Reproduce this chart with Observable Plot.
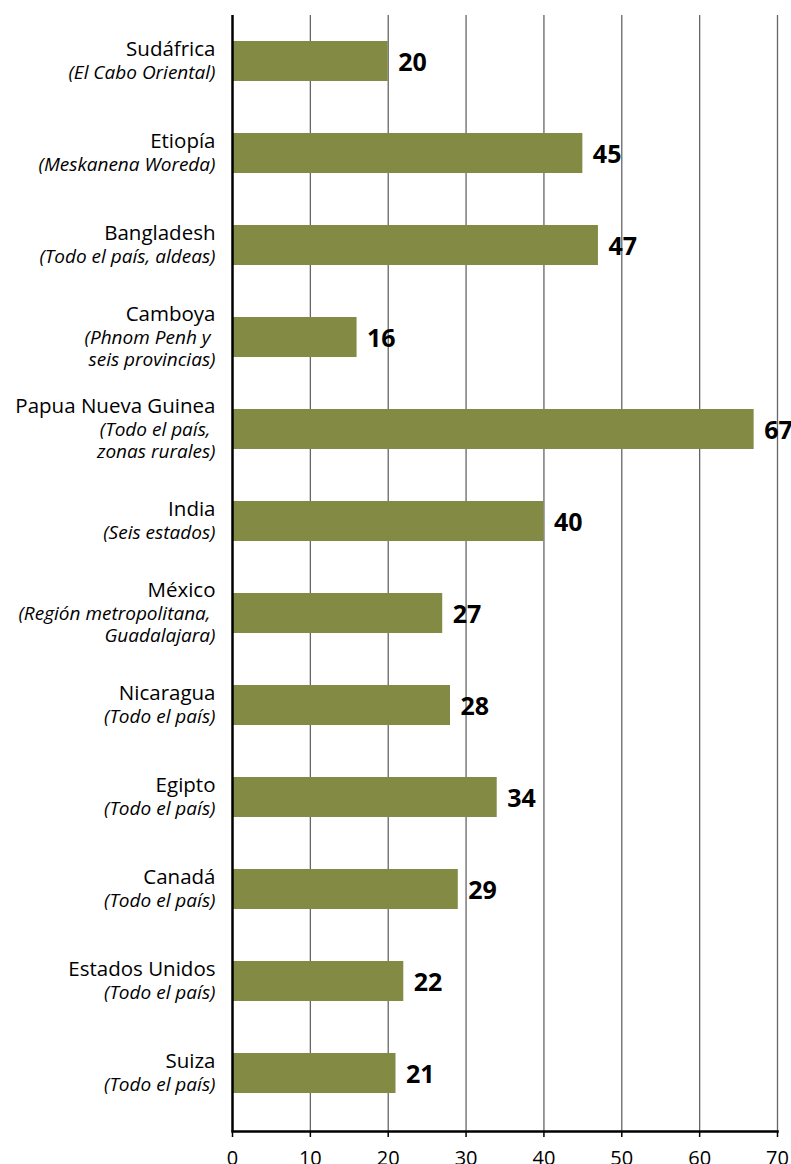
<!DOCTYPE html>
<html>
<head>
<meta charset="utf-8">
<script src="https://cdn.jsdelivr.net/npm/d3@7"></script>
<script src="https://cdn.jsdelivr.net/npm/@observablehq/plot@0.6"></script>
<style>
  html, body { margin: 0; padding: 0; background: #fff; }
  #chart svg { display: block; }
</style>
</head>
<body>
<div id="chart"></div>
<script>
const countries = ["Sudáfrica", "Etiopía", "Bangladesh", "Camboya", "Papua Nueva Guinea", "India", "México", "Nicaragua", "Egipto", "Canadá", "Estados Unidos", "Suiza"];
const regions = ["(El Cabo Oriental)", "(Meskanena Woreda)", "(Todo el país, aldeas)", "(Phnom Penh y \nseis provincias)", "(Todo el país, \nzonas rurales)", "(Seis estados)", "(Región metropolitana, \nGuadalajara)", "(Todo el país)", "(Todo el país)", "(Todo el país)", "(Todo el país)", "(Todo el país)"];
const values = [20, 45, 47, 16, 67, 40, 27, 28, 34, 29, 22, 21];
const xTicks = [0, 10, 20, 30, 40, 50, 60, 70];
const gridTicks = [10, 20, 30, 40, 50, 60, 70];

const data = countries.map((c, i) => ({
  country: c,
  region: regions[i],
  value: values[i],
  subLines: regions[i].split("\n").length
}));

const LH = 22.5;
const nameSize = 20.5;
const subSize = 19;
const font = "'Open Sans', 'Noto Sans', sans-serif";

const nameMark = (n) => Plot.text(data.filter(d => d.subLines === n), {
  x: 0, y: "country", text: "country", textAnchor: "end", dx: -17,
  dy: -LH * n / 2 - 1, fontSize: nameSize, fill: "#000"
});

const chart = Plot.plot({
  width: 791,
  height: 1164,
  marginLeft: 232,
  marginRight: 14,
  marginTop: 15,
  marginBottom: 33,
  style: { fontFamily: font, background: "#fff", color: "#000" },
  x: { domain: [0, 70], ticks: xTicks, label: null },
  y: { domain: countries, range: [13.4, 1119.8], paddingInner: 0.566, paddingOuter: 0.283, axis: null },
  marks: [
    Plot.ruleX(gridTicks, { stroke: "#666", strokeWidth: 1.3 }),
    Plot.barX(data, { x: "value", y: "country", fill: "#838a43" }),
    Plot.ruleX([0], { stroke: "#000", strokeWidth: 2.5 }),
    Plot.frame({ anchor: "bottom", stroke: "#000", strokeWidth: 2.5 }),
    Plot.axisX({ ticks: xTicks, tickSize: 6, tickPadding: 13, fontSize: 20, label: null, stroke: "#000", strokeWidth: 1.5, fill: "#000" }),
    nameMark(1),
    nameMark(2),
    Plot.text(data, { x: 0, y: "country", text: "region", textAnchor: "end", dx: -17, dy: LH / 2 - 1, fontSize: subSize, fontStyle: "italic", lineHeight: LH / subSize, fill: "#000" }),
    Plot.text(data, { x: "value", y: "country", text: d => String(d.value), textAnchor: "start", dx: 10, dy: 1, fontSize: 25, fontWeight: "bold", fill: "#000" })
  ]
});
document.getElementById("chart").appendChild(chart);
</script>
</body>
</html>
